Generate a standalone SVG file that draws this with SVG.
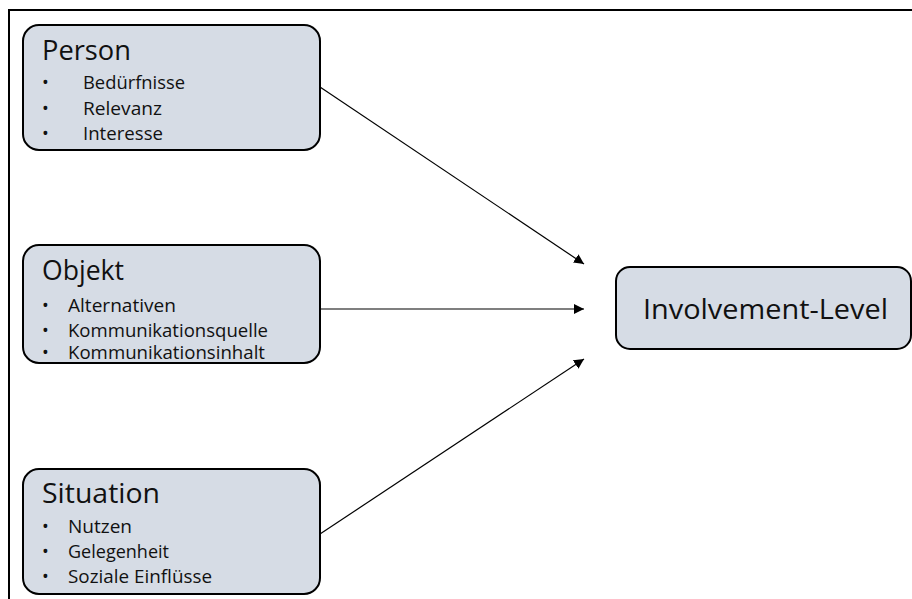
<svg xmlns="http://www.w3.org/2000/svg" width="912" height="599" viewBox="0 0 912 599">
<style>
.box{fill:#D6DCE5;stroke:#000;stroke-width:2}
.t{font-family:"Open Sans","Liberation Sans",Arial,sans-serif;fill:#111}
.title{font-size:27px}
.item{font-size:18px}
.conn{stroke:#000;stroke-width:1.2;fill:none}
</style>
<defs>
<marker id="arr" viewBox="0 0 10 10" refX="10" refY="5" markerWidth="10" markerHeight="10" markerUnits="userSpaceOnUse" orient="auto">
<path d="M0,0 L10,5 L0,10 Z" fill="#000"/>
</marker>
</defs>
<rect width="912" height="599" fill="#fff"/>
<path d="M9,599 L9,10 L912,10" fill="none" stroke="#000" stroke-width="2"/>
<g id="connectors">
<line class="conn" x1="320" y1="87" x2="584" y2="264" marker-end="url(#arr)"/>
<line class="conn" x1="320" y1="309" x2="584" y2="309" marker-end="url(#arr)"/>
<line class="conn" x1="320" y1="534" x2="584" y2="359" marker-end="url(#arr)"/>
</g>
<g id="person">
<rect class="box" x="23" y="25" width="297" height="125" rx="16"/>
<text class="t title" x="42" y="60" textLength="89" lengthAdjust="spacingAndGlyphs">Person</text>
<text class="t item" x="42" y="89">•</text>
<text class="t item" x="83" y="89" textLength="102" lengthAdjust="spacingAndGlyphs">Bedürfnisse</text>
<text class="t item" x="42" y="115">•</text>
<text class="t item" x="83" y="115" textLength="79" lengthAdjust="spacingAndGlyphs">Relevanz</text>
<text class="t item" x="42" y="140">•</text>
<text class="t item" x="83" y="140" textLength="80" lengthAdjust="spacingAndGlyphs">Interesse</text>
</g>
<g id="objekt">
<rect class="box" x="23" y="245" width="297" height="118" rx="16"/>
<text class="t title" x="42" y="280" textLength="82" lengthAdjust="spacingAndGlyphs">Objekt</text>
<text class="t item" x="42" y="312">•</text>
<text class="t item" x="68" y="312" textLength="108" lengthAdjust="spacingAndGlyphs">Alternativen</text>
<text class="t item" x="42" y="337">•</text>
<text class="t item" x="68" y="337" textLength="200" lengthAdjust="spacingAndGlyphs">Kommunikationsquelle</text>
<text class="t item" x="42" y="359">•</text>
<text class="t item" x="68" y="359" textLength="197" lengthAdjust="spacingAndGlyphs">Kommunikationsinhalt</text>
</g>
<g id="situation">
<rect class="box" x="23" y="469" width="297" height="125" rx="16"/>
<text class="t title" x="42" y="503" textLength="118" lengthAdjust="spacingAndGlyphs">Situation</text>
<text class="t item" x="42" y="533">•</text>
<text class="t item" x="68" y="533" textLength="64" lengthAdjust="spacingAndGlyphs">Nutzen</text>
<text class="t item" x="42" y="558">•</text>
<text class="t item" x="68" y="558" textLength="101" lengthAdjust="spacingAndGlyphs">Gelegenheit</text>
<text class="t item" x="42" y="583">•</text>
<text class="t item" x="68" y="583" textLength="144" lengthAdjust="spacingAndGlyphs">Soziale Einflüsse</text>
</g>
<g id="involvement">
<rect class="box" x="616" y="267" width="295" height="82" rx="14"/>
<text class="t title" x="643" y="319" textLength="245" lengthAdjust="spacingAndGlyphs">Involvement-Level</text>
</g>
</svg>
